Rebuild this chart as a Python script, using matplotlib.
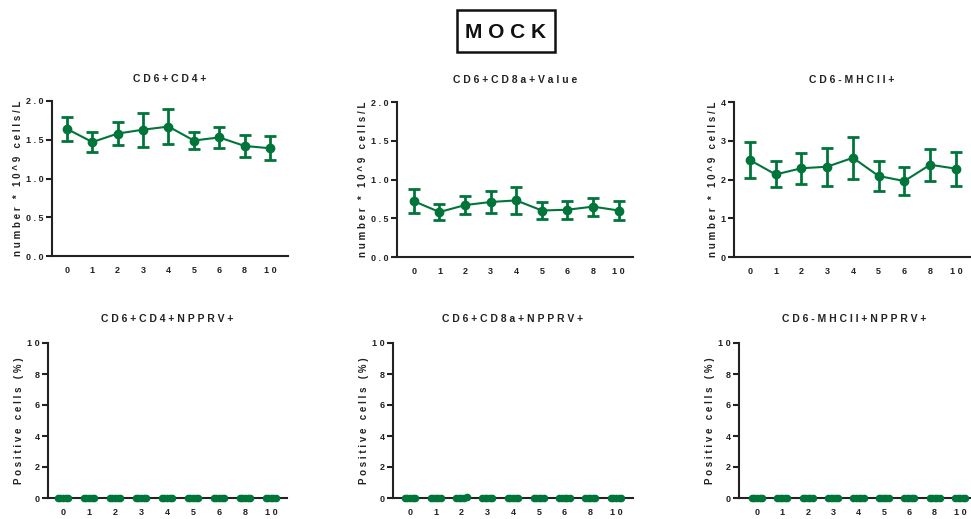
import matplotlib
matplotlib.use("Agg")
import matplotlib.pyplot as plt
from matplotlib.patches import Rectangle

plt.rcParams['font.family'] = ['Liberation Sans', 'DejaVu Sans']
plt.rcParams['font.weight'] = 'bold'

days = ['0', '1', '2', '3', '4', '5', '6', '8', '10']

# top row: mean and error
cd4_mean = [1.64, 1.47, 1.58, 1.63, 1.67, 1.49, 1.53, 1.42, 1.39]
cd4_err = [0.16, 0.13, 0.145, 0.22, 0.23, 0.105, 0.13, 0.145, 0.155]
cd8_mean = [0.72, 0.58, 0.67, 0.71, 0.73, 0.60, 0.61, 0.65, 0.60]
cd8_err = [0.158, 0.10, 0.115, 0.147, 0.17, 0.108, 0.115, 0.117, 0.12]
mhc_mean = [2.50, 2.13, 2.29, 2.33, 2.56, 2.09, 1.96, 2.38, 2.28]
mhc_err = [0.47, 0.335, 0.40, 0.49, 0.54, 0.39, 0.36, 0.41, 0.44]

# bottom row: replicate values (all zero, one small value on day 2 for CD8a)
cd4_npprv = [[0, 0, 0, 0, 0] for _ in days]
cd8_npprv = [[0, 0, 0, 0, 0] for _ in days]
cd8_npprv[2] = [0, 0, 0, 0, 0.08]
mhc_npprv = [[0, 0, 0, 0, 0] for _ in days]

green = '#00753a'
dark = '#222222'


def spaced(s):
    return ' '.join(s)


W, H = 971, 519
fig = plt.figure(figsize=(W / 100, H / 100), dpi=100)


def add_ax(left, right, top, bottom):
    return fig.add_axes([left / W, 1 - bottom / H, (right - left) / W, (bottom - top) / H])


def style(ax, title, ylabel, yticks, ylabels, xlim, tpad):
    for s in ['top', 'right']:
        ax.spines[s].set_visible(False)
    for s in ['left', 'bottom']:
        ax.spines[s].set_linewidth(1.5)
        ax.spines[s].set_color(dark)
    ax.set_xlim(*xlim)
    ax.set_xticks(range(len(days)))
    ax.set_xticklabels([spaced(d) for d in days], fontsize=6.5, color=dark)
    ax.set_yticks(yticks)
    ax.set_yticklabels([spaced(t) for t in ylabels], fontsize=6.5, color=dark)
    ax.set_ylim(yticks[0], yticks[-1])
    ax.tick_params(axis='x', length=0, pad=7)
    ax.tick_params(axis='y', length=4, width=1.5, color=dark, pad=2)
    ax.set_title(spaced(title), fontsize=7.5, fontweight='bold', color=dark, pad=tpad)
    ax.set_ylabel(spaced(ylabel), fontsize=7, fontweight='bold', color=dark, labelpad=2)


def line_panel(ax, mean, err):
    x = range(len(days))
    ax.errorbar(x, mean, yerr=err, color=green, marker='o', markersize=6,
                linewidth=1.5, elinewidth=2, capsize=4, capthick=2, clip_on=False)


def dot_panel(ax, reps):
    offs = [-0.2, -0.1, 0.0, 0.1, 0.2]
    for i, vals in enumerate(reps):
        ax.scatter([i + o for o in offs], vals, s=30, color=green,
                   zorder=3, clip_on=False, linewidths=0)


ylab_top = 'number * 10^9 cells/L'
ylab_bot = 'Positive cells (%)'

ax1 = add_ax(52, 288, 101, 256)
line_panel(ax1, cd4_mean, cd4_err)
style(ax1, 'CD6+CD4+', ylab_top, [0, 0.5, 1.0, 1.5, 2.0],
      ['0.0', '0.5', '1.0', '1.5', '2.0'], (-0.59, 8.71), 14)

ax2 = add_ax(397, 633, 102, 257)
line_panel(ax2, cd8_mean, cd8_err)
style(ax2, 'CD6+CD8a+Value', ylab_top, [0, 0.5, 1.0, 1.5, 2.0],
      ['0.0', '0.5', '1.0', '1.5', '2.0'], (-0.66, 8.56), 14)

ax3 = add_ax(734, 970, 102, 257)
line_panel(ax3, mhc_mean, mhc_err)
style(ax3, 'CD6-MHCII+', ylab_top, [0, 1, 2, 3, 4],
      ['0', '1', '2', '3', '4'], (-0.62, 8.55), 14)

ylist = [0, 2, 4, 6, 8, 10]
ax4 = add_ax(48, 287, 343, 498)
dot_panel(ax4, cd4_npprv)
style(ax4, 'CD6+CD4+NPPRV+', ylab_bot, ylist, [str(v) for v in ylist], (-0.58, 8.62), 15)

ax5 = add_ax(393, 633, 343, 498)
dot_panel(ax5, cd8_npprv)
style(ax5, 'CD6+CD8a+NPPRV+', ylab_bot, ylist, [str(v) for v in ylist], (-0.66, 8.66), 15)

ax6 = add_ax(739, 970, 343, 498)
dot_panel(ax6, mhc_npprv)
style(ax6, 'CD6-MHCII+NPPRV+', ylab_bot, ylist, [str(v) for v in ylist], (-0.71, 8.39), 15)

fig.text(505 / W, 1 - 32 / H, spaced('MOCK'), fontsize=15, fontweight='bold',
         color='#111111', ha='center', va='center')
fig.patches.append(Rectangle((457 / W, 1 - 52 / H), 98 / W, 42 / H,
                             transform=fig.transFigure, fill=False,
                             edgecolor='#111111', linewidth=1.8))

fig.savefig('out.png', dpi=100, facecolor='white')
